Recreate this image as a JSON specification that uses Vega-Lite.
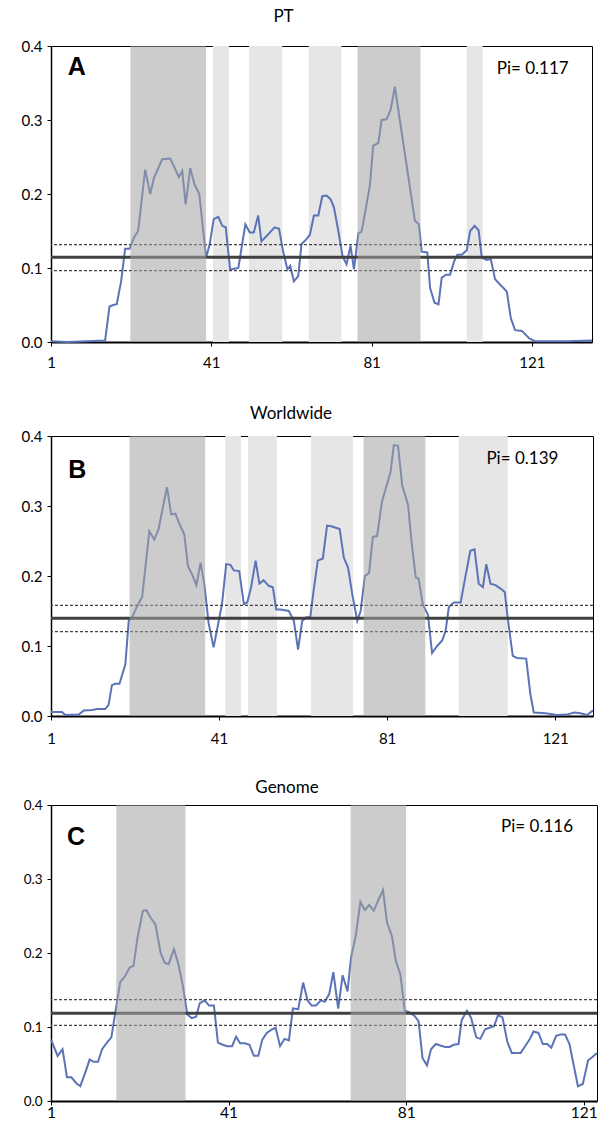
{
  "$schema": "https://vega.github.io/schema/vega-lite/v6.json",
  "padding": {"top": 7, "left": 20, "right": 0, "bottom": 0},
  "background": "white",
  "config": {
    "font": "Lato",
    "view": {"stroke": "black", "strokeWidth": 1},
    "title": {"font": "Lato", "fontSize": 17, "fontWeight": "normal", "color": "black"},
    "axisX": {"grid": false, "title": null, "domainColor": "black", "domainWidth": 2, "tickColor": "black", "tickSize": 4, "labelFontSize": 15, "labelColor": "black", "labelPadding": 9, "zindex": 1, "labelFlush": false},
    "axisY": {"grid": false, "title": null, "domainColor": "black", "domainWidth": 1.5, "tickColor": "black", "tickSize": 4, "labelFontSize": 15, "labelColor": "black", "labelPadding": 5, "zindex": 1}
  },
  "datasets": {
    "piA": [
      {"pos": 1, "pi": 0.001}, {"pos": 5, "pi": 0.0}, {"pos": 10, "pi": 0.001}, {"pos": 14.5, "pi": 0.002},
      {"pos": 15.6, "pi": 0.048}, {"pos": 16.5, "pi": 0.05}, {"pos": 17.4, "pi": 0.051}, {"pos": 18.5, "pi": 0.082},
      {"pos": 19.5, "pi": 0.126}, {"pos": 20.6, "pi": 0.126}, {"pos": 21.7, "pi": 0.141}, {"pos": 22.75, "pi": 0.15},
      {"pos": 24.5, "pi": 0.233}, {"pos": 25.75, "pi": 0.2}, {"pos": 26.7, "pi": 0.222}, {"pos": 28.75, "pi": 0.247},
      {"pos": 30.75, "pi": 0.248}, {"pos": 31.8, "pi": 0.236}, {"pos": 32.9, "pi": 0.223}, {"pos": 33.75, "pi": 0.231},
      {"pos": 34.6, "pi": 0.186}, {"pos": 35.75, "pi": 0.235}, {"pos": 36.8, "pi": 0.213}, {"pos": 38, "pi": 0.2},
      {"pos": 39.7, "pi": 0.114}, {"pos": 40.6, "pi": 0.132}, {"pos": 41.6, "pi": 0.166}, {"pos": 42.75, "pi": 0.169},
      {"pos": 43.75, "pi": 0.157}, {"pos": 44.6, "pi": 0.155}, {"pos": 45.7, "pi": 0.098}, {"pos": 47.75, "pi": 0.1},
      {"pos": 49.5, "pi": 0.159}, {"pos": 50.6, "pi": 0.148}, {"pos": 51.6, "pi": 0.148}, {"pos": 52.7, "pi": 0.171},
      {"pos": 53.5, "pi": 0.136}, {"pos": 54.75, "pi": 0.143}, {"pos": 56.8, "pi": 0.155}, {"pos": 57.9, "pi": 0.153},
      {"pos": 58.9, "pi": 0.123}, {"pos": 60, "pi": 0.098}, {"pos": 60.7, "pi": 0.103}, {"pos": 61.6, "pi": 0.082},
      {"pos": 62.7, "pi": 0.089}, {"pos": 63.5, "pi": 0.132}, {"pos": 64.75, "pi": 0.139}, {"pos": 65.6, "pi": 0.145},
      {"pos": 66.6, "pi": 0.171}, {"pos": 67.7, "pi": 0.171}, {"pos": 68.7, "pi": 0.197}, {"pos": 69.75, "pi": 0.198},
      {"pos": 70.75, "pi": 0.193}, {"pos": 71.6, "pi": 0.182}, {"pos": 72.7, "pi": 0.15}, {"pos": 73.75, "pi": 0.116},
      {"pos": 74.75, "pi": 0.105}, {"pos": 75.75, "pi": 0.13}, {"pos": 76.6, "pi": 0.098}, {"pos": 77.7, "pi": 0.147},
      {"pos": 78.5, "pi": 0.149}, {"pos": 79.75, "pi": 0.186}, {"pos": 80.6, "pi": 0.213}, {"pos": 81.4, "pi": 0.265},
      {"pos": 82.7, "pi": 0.269}, {"pos": 83.5, "pi": 0.3}, {"pos": 84.75, "pi": 0.301}, {"pos": 85.75, "pi": 0.314},
      {"pos": 86.8, "pi": 0.345}, {"pos": 91.8, "pi": 0.164}, {"pos": 92.8, "pi": 0.159}, {"pos": 93.5, "pi": 0.122},
      {"pos": 94.9, "pi": 0.121}, {"pos": 95.6, "pi": 0.073}, {"pos": 96.7, "pi": 0.053}, {"pos": 97.7, "pi": 0.051},
      {"pos": 98.5, "pi": 0.087}, {"pos": 99.6, "pi": 0.091}, {"pos": 100.6, "pi": 0.091}, {"pos": 101.6, "pi": 0.109},
      {"pos": 102.4, "pi": 0.118}, {"pos": 103.5, "pi": 0.118}, {"pos": 104.75, "pi": 0.124}, {"pos": 105.6, "pi": 0.15},
      {"pos": 106.7, "pi": 0.157}, {"pos": 107.7, "pi": 0.151}, {"pos": 108.5, "pi": 0.114}, {"pos": 109.75, "pi": 0.111},
      {"pos": 110.75, "pi": 0.112}, {"pos": 111.8, "pi": 0.085}, {"pos": 112.8, "pi": 0.079}, {"pos": 113.9, "pi": 0.073},
      {"pos": 114.75, "pi": 0.068}, {"pos": 115.75, "pi": 0.032}, {"pos": 116.8, "pi": 0.016}, {"pos": 118.5, "pi": 0.015},
      {"pos": 120.3, "pi": 0.005}, {"pos": 121.8, "pi": 0.001}, {"pos": 130, "pi": 0.001}, {"pos": 136, "pi": 0.002}
    ],
    "piB": [
      {"pos": 1, "pi": 0.0057}, {"pos": 3.6, "pi": 0.0057}, {"pos": 4.4, "pi": 0.0014}, {"pos": 7.6, "pi": 0.002},
      {"pos": 8.8, "pi": 0.008}, {"pos": 10.8, "pi": 0.0086}, {"pos": 12, "pi": 0.01}, {"pos": 13.9, "pi": 0.01},
      {"pos": 14.7, "pi": 0.016}, {"pos": 15.5, "pi": 0.044}, {"pos": 16.3, "pi": 0.046}, {"pos": 17.3, "pi": 0.046},
      {"pos": 18.7, "pi": 0.074}, {"pos": 19.5, "pi": 0.136}, {"pos": 20.3, "pi": 0.141}, {"pos": 21.5, "pi": 0.157},
      {"pos": 22.7, "pi": 0.17}, {"pos": 24.4, "pi": 0.264}, {"pos": 25.6, "pi": 0.252}, {"pos": 26.6, "pi": 0.267},
      {"pos": 28.6, "pi": 0.327}, {"pos": 29.6, "pi": 0.288}, {"pos": 30.6, "pi": 0.289}, {"pos": 31.8, "pi": 0.271},
      {"pos": 32.7, "pi": 0.26}, {"pos": 33.6, "pi": 0.214}, {"pos": 34.6, "pi": 0.202}, {"pos": 35.6, "pi": 0.187},
      {"pos": 36.6, "pi": 0.219}, {"pos": 37.5, "pi": 0.188}, {"pos": 38.5, "pi": 0.133}, {"pos": 39.7, "pi": 0.098},
      {"pos": 41.7, "pi": 0.16}, {"pos": 42.7, "pi": 0.217}, {"pos": 43.7, "pi": 0.216}, {"pos": 44.5, "pi": 0.208},
      {"pos": 45.8, "pi": 0.207}, {"pos": 46.9, "pi": 0.16}, {"pos": 47.7, "pi": 0.162}, {"pos": 48.6, "pi": 0.183},
      {"pos": 49.7, "pi": 0.222}, {"pos": 50.6, "pi": 0.189}, {"pos": 51.6, "pi": 0.194}, {"pos": 52.8, "pi": 0.186},
      {"pos": 53.8, "pi": 0.184}, {"pos": 54.6, "pi": 0.152}, {"pos": 55.6, "pi": 0.152}, {"pos": 57.6, "pi": 0.15},
      {"pos": 58.8, "pi": 0.136}, {"pos": 59.8, "pi": 0.095}, {"pos": 60.8, "pi": 0.136}, {"pos": 61.8, "pi": 0.141},
      {"pos": 62.7, "pi": 0.141}, {"pos": 63.5, "pi": 0.179}, {"pos": 64.5, "pi": 0.222}, {"pos": 65.7, "pi": 0.225},
      {"pos": 66.7, "pi": 0.272}, {"pos": 67.7, "pi": 0.271}, {"pos": 69.7, "pi": 0.267}, {"pos": 70.7, "pi": 0.226},
      {"pos": 71.7, "pi": 0.212}, {"pos": 72.7, "pi": 0.174}, {"pos": 73.9, "pi": 0.136}, {"pos": 74.7, "pi": 0.15},
      {"pos": 75.7, "pi": 0.2}, {"pos": 76.7, "pi": 0.204}, {"pos": 77.6, "pi": 0.256}, {"pos": 78.6, "pi": 0.257},
      {"pos": 79.8, "pi": 0.307}, {"pos": 81.8, "pi": 0.348}, {"pos": 82.6, "pi": 0.387}, {"pos": 83.6, "pi": 0.386},
      {"pos": 84.6, "pi": 0.329}, {"pos": 86, "pi": 0.301}, {"pos": 86.7, "pi": 0.255}, {"pos": 87.8, "pi": 0.198},
      {"pos": 88.5, "pi": 0.196}, {"pos": 89.5, "pi": 0.159}, {"pos": 90.7, "pi": 0.145}, {"pos": 91.7, "pi": 0.09},
      {"pos": 92.9, "pi": 0.1}, {"pos": 94.1, "pi": 0.108}, {"pos": 94.9, "pi": 0.121}, {"pos": 95.7, "pi": 0.156},
      {"pos": 96.9, "pi": 0.162}, {"pos": 98.5, "pi": 0.162}, {"pos": 99.6, "pi": 0.198}, {"pos": 100.8, "pi": 0.236},
      {"pos": 101.8, "pi": 0.238}, {"pos": 102.8, "pi": 0.189}, {"pos": 103.8, "pi": 0.184}, {"pos": 104.6, "pi": 0.217},
      {"pos": 105.6, "pi": 0.189}, {"pos": 106.8, "pi": 0.187}, {"pos": 108, "pi": 0.182}, {"pos": 109, "pi": 0.177},
      {"pos": 109.7, "pi": 0.14}, {"pos": 110.9, "pi": 0.086}, {"pos": 111.9, "pi": 0.083}, {"pos": 114.1, "pi": 0.082},
      {"pos": 115.1, "pi": 0.031}, {"pos": 115.9, "pi": 0.005}, {"pos": 118.7, "pi": 0.004}, {"pos": 121.5, "pi": 0.0014},
      {"pos": 123.9, "pi": 0.002}, {"pos": 125.5, "pi": 0.005}, {"pos": 127, "pi": 0.004}, {"pos": 128.6, "pi": 0.0014},
      {"pos": 129.8, "pi": 0.007}, {"pos": 130, "pi": 0.007}
    ],
    "piC": [
      {"pos": 1, "pi": 0.083}, {"pos": 2.5, "pi": 0.061}, {"pos": 3.6, "pi": 0.07}, {"pos": 4.6, "pi": 0.032},
      {"pos": 5.6, "pi": 0.032}, {"pos": 6.7, "pi": 0.024}, {"pos": 7.6, "pi": 0.02}, {"pos": 8.7, "pi": 0.038},
      {"pos": 9.7, "pi": 0.056}, {"pos": 10.6, "pi": 0.053}, {"pos": 11.6, "pi": 0.053}, {"pos": 12.5, "pi": 0.07},
      {"pos": 13.6, "pi": 0.079}, {"pos": 14.6, "pi": 0.086}, {"pos": 15.5, "pi": 0.12}, {"pos": 16.6, "pi": 0.161},
      {"pos": 17.6, "pi": 0.168}, {"pos": 18.7, "pi": 0.18}, {"pos": 19.6, "pi": 0.183}, {"pos": 20.5, "pi": 0.221},
      {"pos": 21.7, "pi": 0.257}, {"pos": 22.5, "pi": 0.258}, {"pos": 23.4, "pi": 0.248}, {"pos": 24.5, "pi": 0.239},
      {"pos": 25.7, "pi": 0.2}, {"pos": 26.6, "pi": 0.187}, {"pos": 27.5, "pi": 0.185}, {"pos": 28.7, "pi": 0.205},
      {"pos": 29.6, "pi": 0.187}, {"pos": 30.7, "pi": 0.156}, {"pos": 31.7, "pi": 0.117}, {"pos": 32.7, "pi": 0.112},
      {"pos": 33.7, "pi": 0.114}, {"pos": 34.5, "pi": 0.132}, {"pos": 35.6, "pi": 0.136}, {"pos": 36.6, "pi": 0.129},
      {"pos": 37.7, "pi": 0.129}, {"pos": 38.6, "pi": 0.079}, {"pos": 39.7, "pi": 0.076}, {"pos": 40.7, "pi": 0.074},
      {"pos": 41.8, "pi": 0.074}, {"pos": 42.7, "pi": 0.087}, {"pos": 43.6, "pi": 0.078}, {"pos": 44.7, "pi": 0.078},
      {"pos": 45.7, "pi": 0.076}, {"pos": 46.7, "pi": 0.061}, {"pos": 47.7, "pi": 0.061}, {"pos": 48.6, "pi": 0.083},
      {"pos": 49.6, "pi": 0.092}, {"pos": 50.6, "pi": 0.096}, {"pos": 51.6, "pi": 0.099}, {"pos": 52.6, "pi": 0.074},
      {"pos": 53.6, "pi": 0.084}, {"pos": 54.6, "pi": 0.082}, {"pos": 55.5, "pi": 0.125}, {"pos": 56.7, "pi": 0.124},
      {"pos": 57.8, "pi": 0.16}, {"pos": 58.8, "pi": 0.136}, {"pos": 59.7, "pi": 0.129}, {"pos": 60.7, "pi": 0.129},
      {"pos": 61.8, "pi": 0.136}, {"pos": 62.7, "pi": 0.134}, {"pos": 63.7, "pi": 0.145}, {"pos": 64.6, "pi": 0.174},
      {"pos": 65.7, "pi": 0.125}, {"pos": 66.7, "pi": 0.17}, {"pos": 67.8, "pi": 0.148}, {"pos": 68.6, "pi": 0.194},
      {"pos": 69.7, "pi": 0.225}, {"pos": 70.7, "pi": 0.269}, {"pos": 71.7, "pi": 0.258}, {"pos": 72.7, "pi": 0.265},
      {"pos": 73.7, "pi": 0.257}, {"pos": 74.7, "pi": 0.271}, {"pos": 75.8, "pi": 0.285}, {"pos": 76.7, "pi": 0.241},
      {"pos": 77.8, "pi": 0.223}, {"pos": 78.7, "pi": 0.189}, {"pos": 79.7, "pi": 0.171}, {"pos": 80.7, "pi": 0.122},
      {"pos": 81.7, "pi": 0.12}, {"pos": 82.9, "pi": 0.115}, {"pos": 83.8, "pi": 0.108}, {"pos": 84.7, "pi": 0.058},
      {"pos": 85.7, "pi": 0.048}, {"pos": 86.6, "pi": 0.07}, {"pos": 87.7, "pi": 0.077}, {"pos": 88.7, "pi": 0.075},
      {"pos": 89.8, "pi": 0.073}, {"pos": 90.8, "pi": 0.073}, {"pos": 91.7, "pi": 0.076}, {"pos": 92.8, "pi": 0.077},
      {"pos": 93.5, "pi": 0.109}, {"pos": 94.7, "pi": 0.122}, {"pos": 95.6, "pi": 0.113}, {"pos": 96.8, "pi": 0.086},
      {"pos": 97.7, "pi": 0.084}, {"pos": 98.8, "pi": 0.097}, {"pos": 99.8, "pi": 0.099}, {"pos": 100.8, "pi": 0.101},
      {"pos": 101.7, "pi": 0.116}, {"pos": 102.7, "pi": 0.113}, {"pos": 103.8, "pi": 0.08}, {"pos": 104.8, "pi": 0.065},
      {"pos": 105.8, "pi": 0.065}, {"pos": 106.8, "pi": 0.065}, {"pos": 107.8, "pi": 0.074}, {"pos": 108.8, "pi": 0.083},
      {"pos": 109.7, "pi": 0.094}, {"pos": 110.8, "pi": 0.092}, {"pos": 111.8, "pi": 0.077}, {"pos": 112.8, "pi": 0.077},
      {"pos": 113.7, "pi": 0.072}, {"pos": 114.8, "pi": 0.088}, {"pos": 115.8, "pi": 0.09}, {"pos": 116.8, "pi": 0.09},
      {"pos": 117.8, "pi": 0.077}, {"pos": 118.7, "pi": 0.05}, {"pos": 119.7, "pi": 0.02}, {"pos": 120.8, "pi": 0.023},
      {"pos": 122, "pi": 0.055}, {"pos": 122.9, "pi": 0.059}, {"pos": 124, "pi": 0.065}
    ],
    "bandsA": [
      {"start": 20.8, "end": 39.7, "shade": "dark"},
      {"start": 41.4, "end": 45.4, "shade": "light"},
      {"start": 50.4, "end": 58.7, "shade": "light"},
      {"start": 65.3, "end": 73.5, "shade": "light"},
      {"start": 77.5, "end": 93.2, "shade": "dark"},
      {"start": 104.75, "end": 108.7, "shade": "light"}
    ],
    "bandsB": [
      {"start": 19.7, "end": 37.7, "shade": "dark"},
      {"start": 42.5, "end": 46.2, "shade": "light"},
      {"start": 47.9, "end": 54.8, "shade": "light"},
      {"start": 62.9, "end": 72.9, "shade": "light"},
      {"start": 75.4, "end": 90.1, "shade": "dark"},
      {"start": 98.05, "end": 109.7, "shade": "light"}
    ],
    "bandsC": [
      {"start": 15.7, "end": 31.3, "shade": "dark"},
      {"start": 68.5, "end": 81.0, "shade": "dark"}
    ],
    "refA": [{"level": 0.1145, "kind": "mean"}, {"level": 0.1315, "kind": "bound"}, {"level": 0.0964, "kind": "bound"}],
    "refB": [{"level": 0.1396, "kind": "mean"}, {"level": 0.158, "kind": "bound"}, {"level": 0.1204, "kind": "bound"}],
    "refC": [{"level": 0.1185, "kind": "mean"}, {"level": 0.137, "kind": "bound"}, {"level": 0.1023, "kind": "bound"}],
    "labA": [{"tag": "A", "pix": "Pi= 0.117"}],
    "labB": [{"tag": "B", "pix": "Pi= 0.139"}],
    "labC": [{"tag": "C", "pix": "Pi= 0.116"}]
  },
  "spacing": 94,
  "bounds": "flush",
  "vconcat": [
    {
      "width": 541, "height": 296,
      "title": {"text": "PT", "dx": -38, "offset": 13, "fontSize": 17},
      "layer": [
        {"data": {"name": "bandsA"}, "transform": [{"filter": "datum.shade == 'light'"}],
         "mark": {"type": "rect", "color": "#e6e6e6"},
         "encoding": {"x": {"field": "start", "type": "quantitative", "scale": {"domain": [1, 136], "nice": false, "zero": false}, "axis": {"values": [1, 41, 81, 121]}}, "x2": {"field": "end"}}},
        {"data": {"name": "piA"}, "mark": {"type": "line", "color": "#5b74b8", "strokeWidth": 2},
         "encoding": {"x": {"field": "pos", "type": "quantitative"}, "y": {"field": "pi", "type": "quantitative", "scale": {"domain": [0, 0.4], "nice": false}, "axis": {"values": [0, 0.05, 0.1, 0.15, 0.2, 0.25, 0.3, 0.35, 0.4], "labelExpr": "round(datum.value*20) % 2 == 0 ? format(datum.value, '.1f') : ''"}}}},
        {"data": {"name": "refA"}, "transform": [{"filter": "datum.kind == 'mean'"}], "mark": {"type": "rule", "color": "#404040", "strokeWidth": 3},
         "encoding": {"y": {"field": "level", "type": "quantitative"}}},
        {"data": {"name": "refA"}, "transform": [{"filter": "datum.kind == 'bound'"}], "mark": {"type": "rule", "color": "#404040", "strokeWidth": 1.2, "strokeDash": [3, 2]},
         "encoding": {"y": {"field": "level", "type": "quantitative"}}},
        {"data": {"name": "bandsA"}, "transform": [{"filter": "datum.shade == 'dark'"}],
         "mark": {"type": "rect", "color": "#a3a3a3", "opacity": 0.55},
         "encoding": {"x": {"field": "start", "type": "quantitative"}, "x2": {"field": "end"}}},
        {"data": {"name": "labA"}, "mark": {"type": "text", "font": "Liberation Sans", "fontWeight": "bold", "fontSize": 25, "align": "left", "baseline": "alphabetic", "color": "black"},
         "encoding": {"x": {"datum": 5.2}, "y": {"datum": 0.361}, "text": {"field": "tag"}}},
        {"data": {"name": "labA"}, "mark": {"type": "text", "fontSize": 17, "align": "center", "baseline": "alphabetic", "color": "black"},
         "encoding": {"x": {"datum": 121.2}, "y": {"datum": 0.362}, "text": {"field": "pix"}}}
      ]
    },
    {
      "spacing": 89,
      "bounds": "flush",
      "vconcat": [
        {
          "width": 542, "height": 280,
          "title": {"text": "Worldwide", "dx": -31, "offset": 6, "fontSize": 17},
          "layer": [
            {"data": {"name": "bandsB"}, "transform": [{"filter": "datum.shade == 'light'"}],
             "mark": {"type": "rect", "color": "#e6e6e6"},
             "encoding": {"x": {"field": "start", "type": "quantitative", "scale": {"domain": [1, 130], "nice": false, "zero": false}, "axis": {"values": [1, 41, 81, 121], "labelPadding": 11}}, "x2": {"field": "end"}}},
            {"data": {"name": "piB"}, "mark": {"type": "line", "color": "#5b74b8", "strokeWidth": 2},
             "encoding": {"x": {"field": "pos", "type": "quantitative"}, "y": {"field": "pi", "type": "quantitative", "scale": {"domain": [0, 0.4], "nice": false}, "axis": {"values": [0, 0.05, 0.1, 0.15, 0.2, 0.25, 0.3, 0.35, 0.4], "labelExpr": "round(datum.value*20) % 2 == 0 ? format(datum.value, '.1f') : ''"}}}},
            {"data": {"name": "refB"}, "transform": [{"filter": "datum.kind == 'mean'"}], "mark": {"type": "rule", "color": "#404040", "strokeWidth": 3},
             "encoding": {"y": {"field": "level", "type": "quantitative"}}},
            {"data": {"name": "refB"}, "transform": [{"filter": "datum.kind == 'bound'"}], "mark": {"type": "rule", "color": "#404040", "strokeWidth": 1.2, "strokeDash": [3, 2]},
             "encoding": {"y": {"field": "level", "type": "quantitative"}}},
            {"data": {"name": "bandsB"}, "transform": [{"filter": "datum.shade == 'dark'"}],
             "mark": {"type": "rect", "color": "#a3a3a3", "opacity": 0.55},
             "encoding": {"x": {"field": "start", "type": "quantitative"}, "x2": {"field": "end"}}},
            {"data": {"name": "labB"}, "mark": {"type": "text", "font": "Liberation Sans", "fontWeight": "bold", "fontSize": 25, "align": "left", "baseline": "alphabetic", "color": "black"},
             "encoding": {"x": {"datum": 5.1}, "y": {"datum": 0.3396}, "text": {"field": "tag"}}},
            {"data": {"name": "labB"}, "mark": {"type": "text", "fontSize": 17, "align": "center", "baseline": "alphabetic", "color": "black"},
             "encoding": {"x": {"datum": 113.2}, "y": {"datum": 0.36}, "text": {"field": "pix"}}}
          ]
        },
        {
          "width": 546, "height": 296,
          "title": {"text": "Genome", "dx": -37, "offset": 1, "fontSize": 17},
          "layer": [
            {"data": {"name": "piC"}, "mark": {"type": "line", "color": "#5b74b8", "strokeWidth": 2},
             "encoding": {"x": {"field": "pos", "type": "quantitative", "scale": {"domain": [1, 124], "nice": false, "zero": false}, "axis": {"values": [1, 41, 81, 121], "labelFontSize": 15.5, "labelPadding": 0}}, "y": {"field": "pi", "type": "quantitative", "scale": {"domain": [0, 0.4], "nice": false}, "axis": {"values": [0, 0.05, 0.1, 0.15, 0.2, 0.25, 0.3, 0.35, 0.4], "labelExpr": "round(datum.value*20) % 2 == 0 ? format(datum.value, '.1f') : ''", "labelFontSize": 13.5}}}},
            {"data": {"name": "refC"}, "transform": [{"filter": "datum.kind == 'mean'"}], "mark": {"type": "rule", "color": "#404040", "strokeWidth": 3},
             "encoding": {"y": {"field": "level", "type": "quantitative"}}},
            {"data": {"name": "refC"}, "transform": [{"filter": "datum.kind == 'bound'"}], "mark": {"type": "rule", "color": "#404040", "strokeWidth": 1.2, "strokeDash": [3, 2]},
             "encoding": {"y": {"field": "level", "type": "quantitative"}}},
            {"data": {"name": "bandsC"}, "transform": [{"filter": "datum.shade == 'dark'"}],
             "mark": {"type": "rect", "color": "#a3a3a3", "opacity": 0.55},
             "encoding": {"x": {"field": "start", "type": "quantitative"}, "x2": {"field": "end"}}},
            {"data": {"name": "labC"}, "mark": {"type": "text", "font": "Liberation Sans", "fontWeight": "bold", "fontSize": 25, "align": "left", "baseline": "alphabetic", "color": "black"},
             "encoding": {"x": {"datum": 4.6}, "y": {"datum": 0.346}, "text": {"field": "tag"}}},
            {"data": {"name": "labC"}, "mark": {"type": "text", "fontSize": 17, "align": "center", "baseline": "alphabetic", "color": "black"},
             "encoding": {"x": {"datum": 110.5}, "y": {"datum": 0.3635}, "text": {"field": "pix"}}}
          ]
        }
      ]
    }
  ]
}
